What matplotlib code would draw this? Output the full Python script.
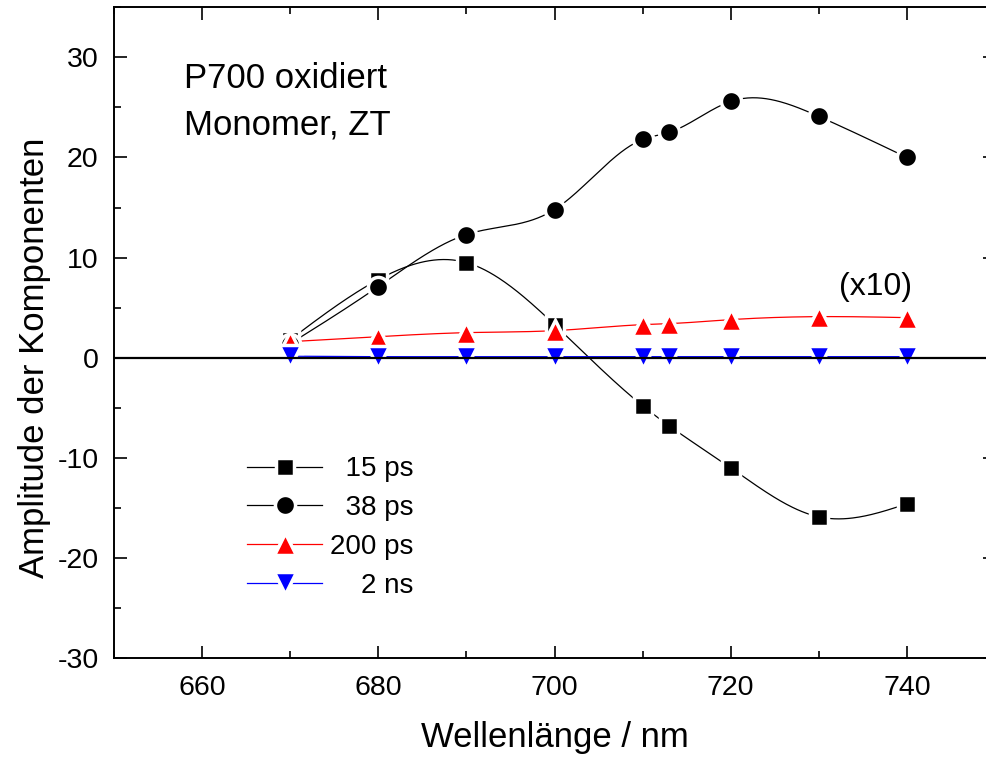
import numpy as np
import matplotlib
matplotlib.use("Agg")
import matplotlib.pyplot as plt

# Wellenlaengen (nm)
wl = [670, 680, 690, 700, 710, 713, 720, 730, 740]

# Amplituden der Komponenten
amp_15ps = [1.8, 7.8, 9.5, 3.3, -4.8, -6.8, -11.0, -15.9, -14.6]
amp_38ps = [1.4, 7.1, 12.3, 14.8, 21.8, 22.5, 25.6, 24.1, 20.0]
amp_200ps = [1.6, 2.1, 2.5, 2.7, 3.3, 3.4, 3.8, 4.1, 4.0]   # x10
amp_2ns = [0.15, 0.1, 0.1, 0.1, 0.1, 0.1, 0.1, 0.1, 0.1]

labels = ["  15 ps", "  38 ps", "200 ps", "    2 ns"]


# natuerlicher kubischer Spline fuer die Verbindungslinien
def spline(x, y, n=400):
    x = np.asarray(x, float)
    y = np.asarray(y, float)
    h = np.diff(x)
    m = len(x)
    A = np.zeros((m, m))
    b = np.zeros(m)
    A[0, 0] = 1
    A[-1, -1] = 1
    for i in range(1, m - 1):
        A[i, i - 1] = h[i - 1]
        A[i, i] = 2 * (h[i - 1] + h[i])
        A[i, i + 1] = h[i]
        b[i] = 6 * ((y[i + 1] - y[i]) / h[i] - (y[i] - y[i - 1]) / h[i - 1])
    M = np.linalg.solve(A, b)
    xs = np.linspace(x[0], x[-1], n)
    k = np.clip(np.searchsorted(x, xs) - 1, 0, m - 2)
    t0 = x[k + 1] - xs
    t1 = xs - x[k]
    hk = h[k]
    ys = (M[k] * t0**3 + M[k + 1] * t1**3) / (6 * hk) \
        + (y[k] / hk - M[k] * hk / 6) * t0 + (y[k + 1] / hk - M[k + 1] * hk / 6) * t1
    return xs, ys


plt.rcParams['font.family'] = ['Liberation Sans', 'DejaVu Sans']
plt.rcParams['axes.unicode_minus'] = False

fig = plt.figure(figsize=(9.87, 7.58), dpi=100)
ax = fig.add_axes([114 / 987, 100 / 758, 881 / 987, 650.7 / 758])

series = [
    (amp_15ps, 'black', 's', 13.5),
    (amp_38ps, 'black', 'o', 14.5),
    (amp_200ps, 'red', '^', 16.5),
    (amp_2ns, 'blue', 'v', 16.5),
]

handles = []
for (vals, col, mk, ms), lab in zip(series, labels):
    xs, ys = spline(wl, vals)
    ax.plot(xs, ys, color=col, lw=0.9, zorder=2)
    ax.plot(wl, vals, linestyle='none', marker=mk, ms=ms, color=col,
            markeredgecolor='white', markeredgewidth=2.5, zorder=3)
    hl, = ax.plot([], [], color=col, lw=0.9, marker=mk, ms=ms,
                  markeredgecolor='white', markeredgewidth=2.5)
    handles.append(hl)

ax.axhline(0, color='black', lw=1.6, zorder=6)

ax.set_xlim(650, 750)
ax.set_ylim(-30, 35)
ax.set_xticks([660, 680, 700, 720, 740])
ax.set_xticks(np.arange(650, 751, 10), minor=True)
ax.set_yticks([-30, -20, -10, 0, 10, 20, 30])
ax.set_yticks(np.arange(-30, 36, 5), minor=True)
ax.tick_params(which='both', direction='in', top=True, right=True, width=1.2,
               labelsize=20.5)
ax.tick_params(which='major', length=9)
ax.tick_params(which='minor', length=5)
ax.tick_params(axis='y', pad=11)
ax.tick_params(axis='x', pad=12)
for sp in ax.spines.values():
    sp.set_linewidth(1.4)

ax.set_xlabel('Wellenlänge / nm', fontsize=25, labelpad=15)
ax.set_ylabel('Amplitude der Komponenten', fontsize=25)
ax.yaxis.set_label_coords(-0.072, 0.461)

ax.text(658.0, 26.95, 'P700 oxidiert', fontsize=25, va='baseline')
ax.text(658.0, 22.26, 'Monomer, ZT', fontsize=25, va='baseline')
ax.text(736.4, 6.3, '(x10)', fontsize=23, ha='center', va='baseline')

ax.legend(handles, labels, loc='upper left', bbox_to_anchor=(0.151, 0.310),
          frameon=False, fontsize=20, handlelength=2.7, handletextpad=0.3,
          labelspacing=0.46, borderpad=0, borderaxespad=0)

plt.savefig('out.png', dpi=100)
